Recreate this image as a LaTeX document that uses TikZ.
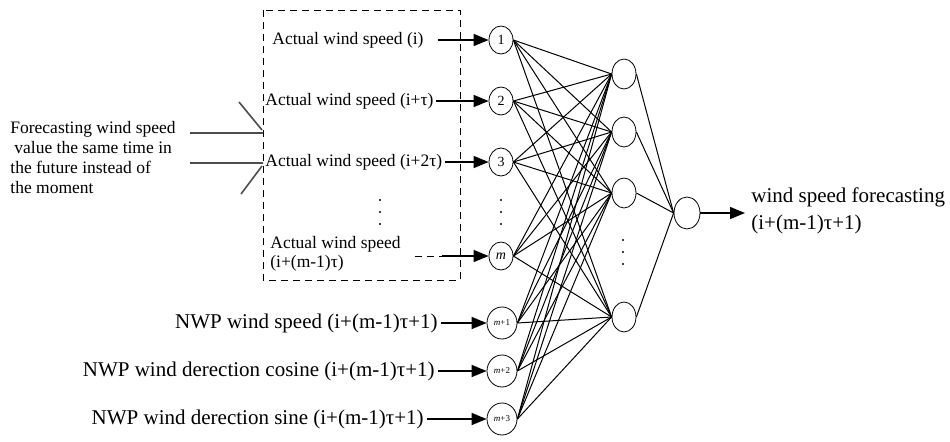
\documentclass[tikz,border=0pt]{standalone}
\usepackage{fontspec}
\setmainfont{Liberation Serif}
\usetikzlibrary{arrows.meta,shapes.geometric}

\begin{document}
\begin{tikzpicture}[
    x=0.5pt, y=-0.5pt,
    windInStyle/.style={draw, ellipse, minimum width=12pt, minimum height=14pt, inner sep=0pt, font=\fontsize{7}{8}\selectfont},
    windInNwpStyle/.style={windInStyle, minimum width=15pt, minimum height=16pt, font=\fontsize{4.5}{5}\selectfont},
    windHidStyle/.style={draw, ellipse, minimum width=12pt, minimum height=15pt, inner sep=0pt},
    windLabelStyle/.style={inner sep=1pt, font=\fontsize{8.75}{9.5}\selectfont},
    windNwpStyle/.style={inner sep=1.5pt, anchor=east, font=\fontsize{10.5}{13.5}\selectfont},
    windLinkStyle/.style={line width=0.5pt},
    windBarbStyle/.style={line width=0.8pt, black!70},
    windArrowStyle/.style={-{Triangle[length=7.5pt,width=6pt]}, line width=0.7pt},
    windBoxStyle/.style={dash pattern=on 3.5pt off 2.5pt, line width=0.5pt}
]
    \useasboundingbox (0,0) rectangle (950,441);

    % --- 输入层 ---
    \node[windInStyle] (in1) at (501,40) {1};
    \node[windInStyle] (in2) at (501,101) {2};
    \node[windInStyle] (in3) at (501,162) {3};
    \node[windInStyle] (inm) at (501,256) {\textit{m}};
    \node[windInNwpStyle] (inm1) at (502,323) {\textit{m}+1};
    \node[windInNwpStyle] (inm2) at (502,371) {\textit{m}+2};
    \node[windInNwpStyle] (inm3) at (502,419) {\textit{m}+3};
    \foreach \y in {200,212,224} \fill (501,\y) circle (0.6pt);

    % --- 隐含层 ---
    \node[windHidStyle] (h1) at (624,74) {};
    \node[windHidStyle] (h2) at (624,132) {};
    \node[windHidStyle] (h3) at (624,193) {};
    \node[windHidStyle] (h4) at (624,317) {};
    \foreach \y in {240,252,264} \fill (623,\y) circle (0.6pt);

    % --- 输出层 ---
    \node[windHidStyle, minimum width=13pt, minimum height=16pt] (out) at (687,213) {};

    % 全连接
    \foreach \i in {in1,in2,in3,inm,inm1,inm2,inm3}
        \foreach \h in {h1,h2,h3,h4}
            \draw[windLinkStyle] (\i.east) -- (\h.west);
    \foreach \h in {h1,h2,h3,h4}
        \draw[windLinkStyle] (\h.east) -- (out.west);

    % --- 实测风速 (虚线框) ---
    \draw[windBoxStyle] (263,10) rectangle (460,280);
    \node[windLabelStyle, anchor=west] (lab1) at (270,40) {Actual wind speed (i)};
    \node[windLabelStyle, anchor=west] (lab2) at (263,101) {Actual wind speed (i+τ)};
    \node[windLabelStyle, anchor=west] (lab3) at (263,162) {Actual wind speed (i+2τ)};
    \node[windLabelStyle, anchor=west, align=left] (labm) at (268,254) {Actual wind speed\\(i+(m-1)τ)};
    \foreach \y in {200,212,224} \fill (380,\y) circle (0.6pt);

    \draw[windArrowStyle, shorten <=6pt] (lab1) -- (in1);
    \draw[windArrowStyle] (lab2) -- (in2);
    \draw[windArrowStyle] (lab3) -- (in3);
    \coordinate (mDash) at (442,256);
    \draw[windBoxStyle] ([xshift=6pt]labm.east |- inm) -- (mDash);
    \draw[windArrowStyle] (mDash) -- (inm);

    % 左侧说明
    \node[windLabelStyle, anchor=west, align=left, font=\fontsize{8.75}{10}\selectfont]
        (fcText) at (8,158) {Forecasting wind speed\\\hspace{2pt}value the same time in\\the future instead of\\the moment};
    \draw[windBarbStyle] (190,133) -- (263,133) (239,102) -- (262,130);
    \draw[windBarbStyle] (190,163) -- (263,163) (262,166) -- (241,194);

    % --- NWP 输入 ---
    \node[windNwpStyle] (nwp1) at (441,323) {NWP wind speed (i+(m-1)τ+1)};
    \node[windNwpStyle] (nwp2) at (438,371) {NWP wind derection cosine (i+(m-1)τ+1)};
    \node[windNwpStyle] (nwp3) at (427,419) {NWP wind derection sine (i+(m-1)τ+1)};
    \draw[windArrowStyle] (nwp1) -- (inm1);
    \draw[windArrowStyle] (nwp2) -- (inm2);
    \draw[windArrowStyle] (nwp3) -- (inm3);

    % 输出
    \coordinate (outTip) at (745,213);
    \draw[windArrowStyle] (out) -- (outTip);
    \node[anchor=west, align=left, inner sep=0pt, font=\fontsize{10.5}{13.5}\selectfont]
        (outLab) at (751,211) {wind speed forecasting\\(i+(m-1)τ+1)};
\end{tikzpicture}
\end{document}
